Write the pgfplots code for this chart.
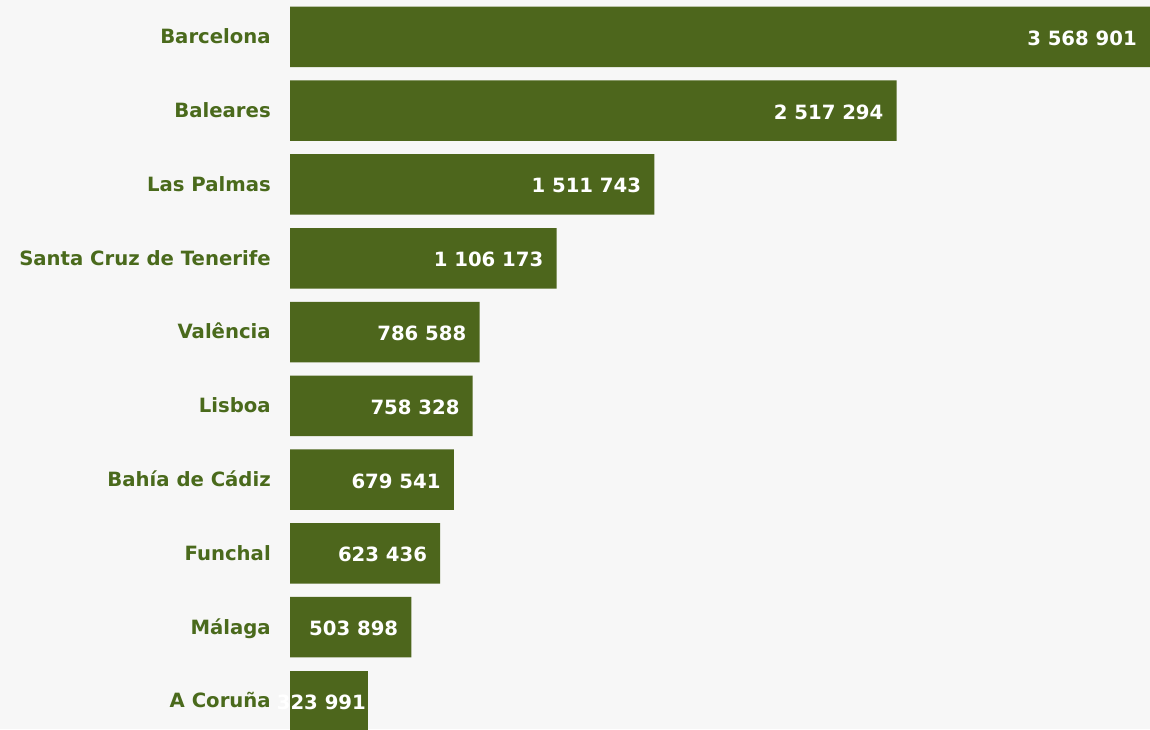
\documentclass[border=0pt]{standalone}
\usepackage{pgfplots}
\pgfplotsset{compat=1.18}
\usepackage{fontspec}
\setmainfont{DejaVu Sans}
\definecolor{bg}{HTML}{F7F7F7}
\definecolor{barc}{HTML}{4D661C}
\definecolor{labc}{HTML}{4A6A1C}
\begin{document}
\begin{tikzpicture}
\fill[bg] (0,0) rectangle (862.5pt,546.75pt);
\begin{axis}[
  at={(217.5pt,0pt)}, anchor=south west,
  scale only axis, width=645pt, height=546.75pt,
  xmin=0, xmax=3568901,
  ymin=-0.5, ymax=9.38, y dir=reverse,
  axis line style={draw=none},
  major tick length=0pt,
  xtick=\empty,
  ytick={0,1,2,3,4,5,6,7,8,9},
  yticklabels={Barcelona,Baleares,Las Palmas,Santa Cruz de Tenerife,Valência,Lisboa,Bahía de Cádiz,Funchal,Málaga,A Coruña},
  yticklabel style={font=\fontsize{14.75pt}{17pt}\selectfont\bfseries, text=labc, anchor=east, inner sep=0pt, xshift=-14.25pt, yshift=-1.5pt, text height=0.73em, text depth=0pt},
  xbar, bar width=0.82, bar shift=0pt,
  nodes near coords, point meta=explicit symbolic,
  every node near coord/.append style={font=\fontsize{14.75pt}{17pt}\selectfont\bfseries, text=white, anchor=east, inner sep=0pt, yshift=-1pt},
]
\addplot[fill=barc, draw=none, every node near coord/.append style={xshift=-9.75pt}] coordinates {
(3568901,0) [3 568 901]
(2517294,1) [2 517 294]
(1511743,2) [1 511 743]
(1106173,3) [1 106 173]
(786588,4) [786 588]
(758328,5) [758 328]
(679541,6) [679 541]
(623436,7) [623 436]
(503898,8) [503 898]
};
\addplot[fill=barc, draw=none, every node near coord/.append style={xshift=-1.5pt}] coordinates {
(323991,9) [323 991]
};
\end{axis}
\pgfresetboundingbox
\path (0,0) rectangle (862.5pt,546.75pt);
\end{tikzpicture}
\end{document}
